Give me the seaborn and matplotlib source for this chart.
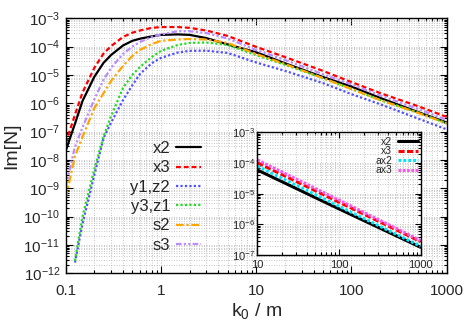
import numpy as np
import matplotlib
matplotlib.use("Agg")
import matplotlib.pyplot as plt
import seaborn as sns
from matplotlib.ticker import LogLocator, FuncFormatter, NullFormatter

sns.set_style("ticks")
plt.rcParams["font.family"] = ["Liberation Sans", "DejaVu Sans"]
plt.rcParams["mathtext.default"] = "regular"

# main panel: Im[N] against k0/m
k0 = [0.1, 0.125, 0.15, 0.2, 0.25, 0.3, 0.4, 0.5, 0.6, 0.8, 1, 1.5, 2, 3, 5,
      10, 20, 50, 100, 200, 500, 1000]
im_x2 = [2.1e-8, 1.9e-7, 1.2e-6, 8.7e-6, 2.7e-5, 5.1e-5, 1.1e-4, 1.6e-4, 1.9e-4,
         2.3e-4, 2.6e-4, 2.7e-4, 2.6e-4, 2.0e-4, 1.2e-4, 6.3e-5, 2.6e-5, 8.5e-6,
         3.9e-6, 1.55e-6, 4.9e-7, 2.1e-7]
im_x3 = [4.0e-8, 3.9e-7, 2.4e-6, 1.8e-5, 5.75e-5, 1.05e-4, 2.2e-4, 3.1e-4, 3.7e-4,
         4.6e-4, 4.9e-4, 4.9e-4, 4.6e-4, 3.7e-4, 2.4e-4, 9.8e-5, 4.3e-5, 1.4e-5,
         5.6e-6, 2.3e-6, 7.9e-7, 3.3e-7]
im_y1z2 = [np.nan, 2.4e-12, 5.5e-11, 3.0e-9, 6.0e-8, 2.1e-7, 1.3e-6, 4.3e-6, 1.07e-5,
           2.6e-5, 4.0e-5, 6.2e-5, 7.1e-5, 7.2e-5, 6.0e-5, 2.75e-5, 1.4e-5, 5.2e-6,
           2.1e-6, 9.3e-7, 2.9e-7, 1.2e-7]
im_y3z1 = [np.nan, 2.8e-12, 1.0e-10, 4.8e-9, 6.9e-8, 3.6e-7, 3.5e-6, 1.0e-5, 1.9e-5,
           4.3e-5, 7.1e-5, 1.15e-4, 1.35e-4, 1.4e-4, 1.15e-4, 5.0e-5, 2.3e-5, 7.8e-6,
           3.2e-6, 1.3e-6, 4.7e-7, 1.95e-7]
im_s2 = [4.5e-10, 1.35e-8, 6.5e-8, 6.8e-7, 2.3e-6, 6.2e-6, 2.1e-5, 4.7e-5, 7.6e-5,
         1.23e-4, 1.6e-4, 1.78e-4, 1.86e-4, 1.78e-4, 1.35e-4, 5.5e-5, 2.45e-5, 7.8e-6,
         3.2e-6, 1.3e-6, 4.6e-7, 1.95e-7]
im_s3 = [1.15e-9, 2.9e-8, 1.4e-7, 1.4e-6, 6.8e-6, 1.8e-5, 5.5e-5, 1.0e-4, 1.45e-4,
         2.2e-4, 2.7e-4, 3.5e-4, 3.5e-4, 3.0e-4, 1.95e-4, 7.6e-5, 3.4e-5, 1.07e-5,
         4.6e-6, 1.9e-6, 6.3e-7, 2.6e-7]

# inset: large-k0 behaviour
k0_in = [10, 100, 1000]
in_x2 = [5.9e-5, 3.2e-6, 1.8e-7]
in_x3 = [1.02e-4, 5.3e-6, 2.75e-7]
in_ax2 = [7.9e-5, 3.9e-6, 1.95e-7]
in_ax3 = [1.26e-4, 6.2e-6, 3.0e-7]

main_series = [
    ("x2", im_x2, "black", "-"),
    ("x3", im_x3, "#ff0000", (0, (2.2, 1.3))),
    ("y1,z2", im_y1z2, "#5050ff", (0, (1, 1))),
    ("y3,z1", im_y3z1, "#22dd22", (0, (1, 1))),
    ("s2", im_s2, "#ffa500", (0, (3.5, 1.2, 1, 1.2))),
    ("s3", im_s3, "#b98cff", (0, (2.5, 1, 1, 1, 1, 1))),
]
inset_series = [
    ("x2", in_x2, "black", "-"),
    ("x3", in_x3, "#ff0000", (0, (2, 0.8))),
    ("ax2", in_ax2, "#00e5ff", (0, (0.9, 0.7))),
    ("ax3", in_ax3, "#ff55ee", (0, (0.9, 0.5))),
]

grid_kw = dict(color="#b4b4b4", linestyle=(0, (1, 2)), linewidth=0.6)


def log_label(v, _):
    return "$10^{%d}$" % int(round(np.log10(v)))


def style_axes(ax, labelsize, major_len, minor_len, pad):
    ax.set_xscale("log")
    ax.set_yscale("log")
    ax.yaxis.set_major_locator(LogLocator(base=10, numticks=20))
    ax.yaxis.set_minor_locator(LogLocator(base=10, subs=np.arange(2, 10) * 1.0, numticks=100))
    ax.xaxis.set_major_locator(LogLocator(base=10, numticks=20))
    ax.xaxis.set_minor_locator(LogLocator(base=10, subs=np.arange(2, 10) * 1.0, numticks=100))
    ax.yaxis.set_major_formatter(FuncFormatter(log_label))
    ax.xaxis.set_major_formatter(FuncFormatter(lambda v, _: f"{v:g}"))
    ax.xaxis.set_minor_formatter(NullFormatter())
    ax.yaxis.set_minor_formatter(NullFormatter())
    ax.tick_params(which="both", direction="in", top=True, right=True,
                   labelsize=labelsize, width=0.8, color="black")
    ax.tick_params(which="major", length=major_len, pad=pad)
    ax.tick_params(which="minor", length=minor_len)
    ax.grid(True, which="both", **grid_kw)
    ax.set_axisbelow(True)
    for sp in ax.spines.values():
        sp.set_linewidth(1.0)
        sp.set_color("black")


fig = plt.figure(figsize=(4.69, 3.28), dpi=100)
ax = fig.add_axes([0.1401, 0.1668, 0.8124, 0.7774])

for name, vals, col, ls in main_series:
    sns.lineplot(x=k0, y=vals, ax=ax, color=col, linestyle=ls, linewidth=1.6,
                 label=name, estimator=None, sort=False)

style_axes(ax, 11, 5, 2.5, 4)
ax.tick_params(axis="x", which="major", pad=8)
ax.set_xlim(0.1, 1000)
ax.set_ylim(1e-12, 1e-3)
ax.set_xlabel("k$_0$ / m", fontsize=14, labelpad=2)
ax.set_ylabel("Im[N]", fontsize=14, labelpad=2)

handles, labels = ax.get_legend_handles_labels()
ax.legend(handles, labels, loc="upper right", bbox_to_anchor=(201 / 469, 1 - 141 / 328),
          bbox_transform=fig.transFigure, frameon=False, markerfirst=False,
          fontsize=12, handlelength=1.5, handletextpad=0.35, labelspacing=0.26,
          borderpad=0, borderaxespad=0)

ax_in = fig.add_axes([0.549, 0.222, 0.348, 0.3747])
ax_in.set_facecolor("white")
for name, vals, col, ls in inset_series:
    sns.lineplot(x=k0_in, y=vals, ax=ax_in, color=col, linestyle=ls, linewidth=2.2,
                 label=name, estimator=None, sort=False)

style_axes(ax_in, 8, 4, 2, 2)
ax_in.tick_params(axis="x", which="major", pad=3.5)
ax_in.set_xlim(10, 1000)
ax_in.set_ylim(1e-7, 1e-3)
handles, labels = ax_in.get_legend_handles_labels()
ax_in.legend(handles, labels, loc="upper right", bbox_to_anchor=(418 / 469, 1 - 137 / 328),
             bbox_transform=fig.transFigure, frameon=False, markerfirst=False,
             fontsize=7.5, handlelength=1.9, handletextpad=0.6, labelspacing=-0.05,
             borderpad=0, borderaxespad=0)

fig.savefig("out.png", dpi=100)
